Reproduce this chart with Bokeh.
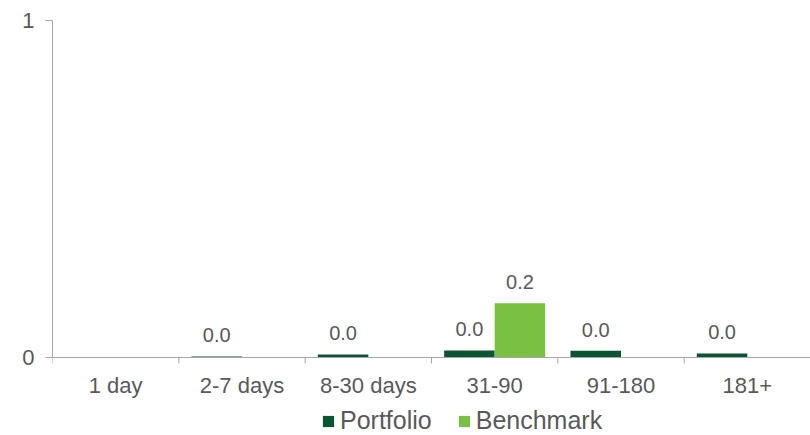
from bokeh.plotting import figure
from bokeh.models import (ColumnDataSource, FixedTicker, Legend, LegendItem, Range1d, Span)
from bokeh.core.properties import value
from bokeh.embed import file_html
from bokeh.resources import INLINE
import numpy as np

categories = ["1 day", "2-7 days", "8-30 days", "31-90", "91-180", "181+"]
portfolio = [np.nan, 0.003, 0.009, 0.021, 0.02, 0.012]
benchmark = [np.nan, np.nan, np.nan, 0.161, np.nan, np.nan]
y_ticks = [0, 1]

PORT_COLOR = "#0b5434"
BENCH_COLOR = "#7ac143"
TEXT_COLOR = "#595959"
AXIS_COLOR = "#a6a6a6"
FONT = "Liberation Sans"

n = len(categories)
centers = [i + 0.5 for i in range(n)]
boundaries = list(range(n + 1))

# layout: frame spans the full height below the top border; zero sits 78 px
# above the frame bottom, leaving room for category labels and the legend
PX_PER_UNIT = 337.0
BOTTOM_PX = 78.0


def labels(vals):
    return ["" if (v is None or np.isnan(v)) else f"{v:.1f}" for v in vals]


src_p = ColumnDataSource(dict(x=[c - 0.2 for c in centers],
                              top=[0 if np.isnan(v) else v for v in portfolio],
                              lab=labels(portfolio)))
src_b = ColumnDataSource(dict(x=[c + 0.2 for c in centers],
                              top=[0 if np.isnan(v) else v for v in benchmark],
                              lab=labels(benchmark)))
src_cat = ColumnDataSource(dict(x=centers, y=[0] * n, text=categories))
src_tick = ColumnDataSource(dict(x=boundaries, y=[0] * len(boundaries)))

p = figure(width=810, height=435, output_backend="svg", toolbar_location=None,
           x_range=Range1d(0, n), y_range=Range1d(-BOTTOM_PX / PX_PER_UNIT, 1),
           x_axis_location=None,
           min_border_left=52, min_border_right=0, min_border_top=20,
           min_border_bottom=0)
p.outline_line_color = None
p.xgrid.visible = False
p.ygrid.visible = False
p.background_fill_color = "white"
p.border_fill_color = "white"

rp = p.vbar(x="x", top="top", width=0.4, bottom=0, source=src_p,
            fill_color=PORT_COLOR, line_color=None)
rb = p.vbar(x="x", top="top", width=0.4, bottom=0, source=src_b,
            fill_color=BENCH_COLOR, line_color=None)

for src in (src_p, src_b):
    p.text(x="x", y="top", text="lab", source=src, text_align="center",
           text_baseline="alphabetic", y_offset=-21,
           text_font=value(FONT), text_font_size="20px", text_color=TEXT_COLOR)

# category axis drawn at y = 0
p.add_layout(Span(location=0, dimension="width", line_color=AXIS_COLOR, line_width=1))
p.ray(x="x", y="y", length=6, length_units="screen", angle=-np.pi / 2,
      source=src_tick, line_color=AXIS_COLOR, line_width=1)
p.text(x="x", y="y", text="text", source=src_cat, text_align="center",
       text_baseline="middle", y_offset=28,
       text_font=value(FONT), text_font_size="22px", text_color=TEXT_COLOR)

p.yaxis.ticker = FixedTicker(ticks=y_ticks, minor_ticks=[])
p.yaxis.bounds = (0, 1)
p.yaxis.major_tick_out = 7
p.yaxis.major_tick_in = 0
p.yaxis.minor_tick_out = 0
p.yaxis.major_tick_line_color = AXIS_COLOR
p.yaxis.axis_line_color = AXIS_COLOR
p.yaxis.major_label_text_font = FONT
p.yaxis.major_label_text_font_size = "22px"
p.yaxis.major_label_text_color = TEXT_COLOR
p.yaxis.major_label_standoff = 11

legend = Legend(items=[LegendItem(label="Portfolio", renderers=[rp]),
                       LegendItem(label="Benchmark", renderers=[rb])],
                orientation="horizontal", location=(269, 0),
                glyph_width=14, glyph_height=14, label_standoff=5, spacing=25,
                padding=0, margin=0, border_line_color=None,
                background_fill_alpha=0,
                label_text_font=FONT, label_text_font_size="25px",
                label_text_color=TEXT_COLOR)
p.add_layout(legend, "center")

open("out.html", "w").write(file_html(p, INLINE))
